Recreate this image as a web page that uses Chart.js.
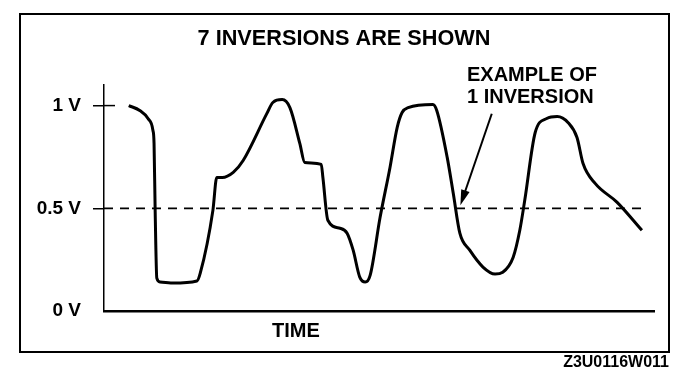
<!DOCTYPE html>
<html>
<head>
  <meta charset="utf-8">
  <title>7 Inversions Are Shown</title>
  <script src="https://cdn.jsdelivr.net/npm/chart.js"></script>
  <style>
    body {
      margin: 0;
      background: #fff;
      font-family: "Liberation Sans", Arial, sans-serif;
    }
    .wrap {
      position: relative;
      width: 688px;
      height: 378px;
    }
    .frame {
      position: absolute;
      left: 19px;
      top: 13px;
      width: 651px;
      height: 340px;
      box-sizing: border-box;
      border: 2px solid #000;
      pointer-events: none;
    }
    .note {
      position: absolute;
      color: #000;
      font-weight: bold;
      white-space: nowrap;
    }
    #example { left: 467px; top: 63px; font-size: 20px; line-height: 22px; }
    #timeLabel { left: 272px; top: 319px; font-size: 20px; line-height: 22px; }
    #code { right: 19px; top: 353px; font-size: 16px; line-height: 18px; }
  </style>
</head>
<body>
<div class="wrap">
  <canvas id="chart" width="688" height="378"></canvas>
  <div class="frame"></div>
  <div class="note" id="example">EXAMPLE OF<br>1 INVERSION</div>
  <div class="note" id="timeLabel">TIME</div>
  <div class="note" id="code">Z3U0116W011</div>
</div>

<script>
  // sensor signal (time in arbitrary units 0-100, volts)
  const time = [4.5, 6.5, 8.0, 8.9, 9.1, 9.3, 9.6, 10.2, 12.5, 16.9, 17.5, 19.8, 20.5, 21.5, 23.5, 25.3,
                29.6, 30.7, 32.4, 33.8, 35.6, 36.5, 39.5, 39.8, 40.7, 42.9, 44.2, 45.3, 46.5, 47.5, 48.4,
                50.2, 52.0, 53.3, 54.2, 55.3, 59.8, 60.5, 62.4, 63.5, 64.7, 66.5, 68.9, 71.1, 72.5, 74.4,
                75.6, 76.5, 78.4, 80.5, 82.4, 84.4, 86.0, 87.1, 89.3, 93.3, 97.8];
  const volts = [1.00, 0.976, 0.937, 0.879, 0.816, 0.49, 0.16, 0.141, 0.136, 0.146, 0.184, 0.49, 0.65, 0.65, 0.675, 0.733,
                 0.961, 1.015, 1.029, 0.99, 0.816, 0.723, 0.714, 0.65, 0.442, 0.403, 0.379, 0.296, 0.165, 0.141, 0.175,
                 0.456, 0.699, 0.893, 0.966, 0.99, 1.005, 0.976, 0.748, 0.573, 0.379, 0.296, 0.214, 0.18, 0.189, 0.262,
                 0.393, 0.539, 0.869, 0.937, 0.947, 0.917, 0.845, 0.718, 0.621, 0.529, 0.393];

  // 0.5 V reference line
  const refTime = [0, 98.5];
  const refVolts = [0.5, 0.5];

  // y axis ticks
  const yTickValues = [0, 0.5, 1];
  const yTickLabels = ['0 V', '0.5 V', '1 V'];

  // arrow for the "example of 1 inversion" note (data units)
  const arrowFrom = { x: 70.5, y: 0.96 };
  const arrowTo = { x: 64.8, y: 0.515 };

  Chart.defaults.font.family = '"Liberation Sans", Arial, sans-serif';
  Chart.defaults.color = '#000';

  // draws the note arrow and the short cross tick at 1 V
  const extras = {
    id: 'extras',
    afterDatasetsDraw(chart) {
      const { ctx, scales: { x, y } } = chart;
      ctx.save();
      ctx.strokeStyle = '#000';
      ctx.fillStyle = '#000';

      // tick crossing the axis at 1 V
      ctx.lineWidth = 1.5;
      ctx.beginPath();
      ctx.moveTo(x.left, y.getPixelForValue(1));
      ctx.lineTo(x.left + 11, y.getPixelForValue(1));
      ctx.stroke();

      // arrow
      const x1 = x.getPixelForValue(arrowFrom.x), y1 = y.getPixelForValue(arrowFrom.y);
      const x2 = x.getPixelForValue(arrowTo.x), y2 = y.getPixelForValue(arrowTo.y);
      const ang = Math.atan2(y2 - y1, x2 - x1);
      ctx.lineWidth = 2;
      ctx.beginPath();
      ctx.moveTo(x1, y1);
      ctx.lineTo(x2 - 10 * Math.cos(ang), y2 - 10 * Math.sin(ang));
      ctx.stroke();
      ctx.beginPath();
      ctx.moveTo(x2, y2);
      ctx.lineTo(x2 - 16 * Math.cos(ang - 0.28), y2 - 16 * Math.sin(ang - 0.28));
      ctx.lineTo(x2 - 16 * Math.cos(ang + 0.28), y2 - 16 * Math.sin(ang + 0.28));
      ctx.closePath();
      ctx.fill();
      ctx.restore();
    }
  };

  new Chart(document.getElementById('chart').getContext('2d'), {
    type: 'line',
    data: {
      datasets: [
        {
          label: 'Signal',
          data: time.map((t, i) => ({ x: t, y: volts[i] })),
          borderColor: '#000',
          borderWidth: 3,
          pointRadius: 0,
          cubicInterpolationMode: 'monotone',
          fill: false
        },
        {
          label: '0.5 V',
          data: refTime.map((t, i) => ({ x: t, y: refVolts[i] })),
          borderColor: '#000',
          borderWidth: 1.8,
          borderDash: [9, 7],
          pointRadius: 0,
          fill: false
        }
      ]
    },
    options: {
      responsive: false,
      animation: false,
      layout: { padding: 0 },
      plugins: {
        legend: { display: false },
        tooltip: { enabled: false },
        title: {
          display: true,
          text: '7 INVERSIONS ARE SHOWN',
          font: { size: 21.7, weight: 'bold' },
          padding: { top: 26, bottom: 33 }
        }
      },
      scales: {
        x: {
          type: 'linear',
          min: 0,
          max: 100,
          afterFit: s => { s.height = 67; },
          ticks: { display: false },
          grid: { display: false },
          border: { color: '#000', width: 2.5 }
        },
        y: {
          min: 0,
          max: 1.1,
          afterFit: s => { s.width = 104; },
          afterBuildTicks: s => { s.ticks = yTickValues.map(v => ({ value: v })); },
          ticks: {
            padding: 12,
            font: { size: 19, weight: 'bold' },
            callback: v => yTickLabels[yTickValues.indexOf(v)]
          },
          grid: {
            drawOnChartArea: false,
            tickLength: 11,
            lineWidth: 1.5,
            color: c => (c.tick && c.tick.value === 0) ? 'rgba(0,0,0,0)' : '#000'
          },
          border: { color: '#000', width: 1.5 }
        },
        // empty right-hand margin so the title centres on the whole page
        yRight: {
          position: 'right',
          afterFit: s => { s.width = 34; },
          ticks: { display: false },
          grid: { display: false },
          border: { display: false }
        }
      }
    },
    plugins: [extras]
  });
</script>
</body>
</html>
